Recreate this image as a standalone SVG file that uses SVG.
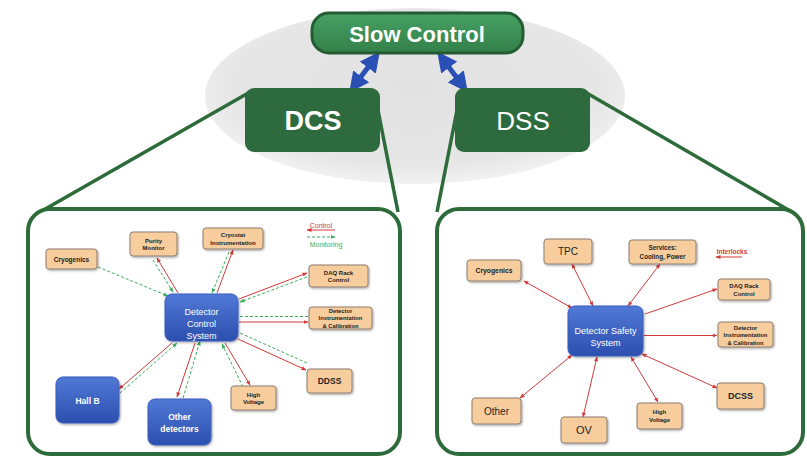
<svg xmlns="http://www.w3.org/2000/svg" width="807" height="462" viewBox="0 0 807 462">
<defs>
<radialGradient id="ell" cx="50%" cy="45%" r="55%">
<stop offset="0" stop-color="#e2e2e2"/>
<stop offset="0.8" stop-color="#e6e6e6"/>
<stop offset="1" stop-color="#f1f1f1"/>
</radialGradient>
<linearGradient id="blue" x1="0" y1="0" x2="0" y2="1">
<stop offset="0" stop-color="#5179d6"/>
<stop offset="1" stop-color="#2b4fae"/>
</linearGradient>
<linearGradient id="green" x1="0" y1="0" x2="0" y2="1">
<stop offset="0" stop-color="#46a064"/>
<stop offset="1" stop-color="#338049"/>
</linearGradient>
<filter id="sh" x="-20%" y="-20%" width="150%" height="150%">
<feDropShadow dx="1" dy="1.2" stdDeviation="0.8" flood-color="#000" flood-opacity="0.35"/>
</filter>
<marker id="ar" viewBox="0 0 10 10" refX="9" refY="5" markerWidth="5" markerHeight="5" markerUnits="userSpaceOnUse" orient="auto-start-reverse">
<path d="M0,1 L10,5 L0,9 z" fill="#d23a3a"/>
</marker>
<marker id="ag" viewBox="0 0 10 10" refX="9" refY="5" markerWidth="5" markerHeight="5" markerUnits="userSpaceOnUse" orient="auto-start-reverse">
<path d="M0,1 L10,5 L0,9 z" fill="#3cad5c"/>
</marker>
<marker id="ab" viewBox="0 0 10 10" refX="6" refY="5" markerWidth="4" markerHeight="4" orient="auto-start-reverse">
<path d="M0,0 L10,5 L0,10 z" fill="#2a4fb5"/>
</marker>
</defs>
<style>
.tan{fill:#f8cd9e;stroke:#8c7e70;stroke-width:1;filter:url(#sh)}
.bl{fill:url(#blue);stroke:#3a5fc0;stroke-width:1;filter:url(#sh)}
.t{font-family:"Liberation Sans",Arial,sans-serif;text-anchor:middle;dominant-baseline:central;fill:#222}
.b{font-weight:bold}
.w{fill:#fff}
.rd{stroke:#d23a3a;stroke-width:1;fill:none}
.gd{stroke:#3cad5c;stroke-width:1;fill:none;stroke-dasharray:3,2}
.call{stroke:#2e6b3a;stroke-width:3.5;fill:none}
.panel{fill:#fff;stroke:#2e6b3a;stroke-width:4}
</style>
<rect width="807" height="462" fill="#fff"/>
<ellipse cx="415" cy="96" rx="210" ry="88" fill="url(#ell)"/>

<g id="callouts">
<line class="call" x1="250" y1="92" x2="40" y2="212"/>
<line class="call" x1="376" y1="100" x2="398" y2="212"/>
<line class="call" x1="459" y1="100" x2="437" y2="212"/>
<line class="call" x1="585" y1="92" x2="792" y2="212"/>
</g>

<g id="panel-left"><rect class="panel" x="28" y="209" width="372" height="245" rx="22"/></g>
<g id="panel-right"><rect class="panel" x="437" y="209" width="366" height="245" rx="22"/></g>

<g id="top-connectors">
<line x1="354" y1="86" x2="375" y2="58" stroke="#2a4fb5" stroke-width="5" marker-start="url(#ab)" marker-end="url(#ab)"/>
<line x1="463" y1="86" x2="442" y2="58" stroke="#2a4fb5" stroke-width="5" marker-start="url(#ab)" marker-end="url(#ab)"/>
</g>

<g id="slow-control">
<rect x="312" y="13" width="211" height="40" rx="17" fill="url(#green)" stroke="#245c33" stroke-width="3"/>
<text class="t b w" x="417" y="34" font-size="22">Slow Control</text>
</g>
<g id="dcs">
<rect x="245" y="88" width="135" height="64" rx="9" fill="#2d6a3e"/>
<text class="t b w" x="313" y="121" font-size="27">DCS</text>
</g>
<g id="dss">
<rect x="455" y="88" width="135" height="64" rx="9" fill="#2d6a3e"/>
<text class="t w" x="523" y="121" font-size="26">DSS</text>
</g>

<g id="connectors-left">
<line class="gd" x1="98" y1="267" x2="168" y2="296" marker-end="url(#ag)"/>
<line class="rd" x1="178" y1="293" x2="157" y2="258" marker-end="url(#ar)"/>
<line class="gd" x1="153" y1="260" x2="173" y2="292" marker-end="url(#ag)"/>
<line class="rd" x1="217" y1="293" x2="233" y2="250" marker-end="url(#ar)"/>
<line class="gd" x1="229" y1="252" x2="212" y2="293" marker-end="url(#ag)"/>
<line class="rd" x1="239" y1="299" x2="307" y2="273" marker-end="url(#ar)"/>
<line class="gd" x1="307" y1="277" x2="240" y2="302" marker-end="url(#ag)"/>
<line class="gd" x1="308" y1="316.5" x2="240" y2="316.5"/>
<line class="rd" x1="239" y1="322" x2="308" y2="322" marker-end="url(#ar)"/>
<line class="rd" x1="238" y1="339" x2="306" y2="370" marker-end="url(#ar)"/>
<line class="gd" x1="307" y1="363" x2="240" y2="333"/>
<line class="rd" x1="225" y1="343" x2="250" y2="385" marker-end="url(#ar)"/>
<line class="gd" x1="243" y1="387" x2="222" y2="344" marker-end="url(#ag)"/>
<line class="rd" x1="195" y1="343" x2="177" y2="397" marker-end="url(#ar)"/>
<line class="gd" x1="183" y1="398" x2="200" y2="341" marker-end="url(#ag)"/>
<line class="rd" x1="172" y1="343" x2="119" y2="389" marker-end="url(#ar)"/>
<line class="gd" x1="120" y1="393" x2="177" y2="343" marker-end="url(#ag)"/>
<line class="rd" x1="335" y1="230" x2="307" y2="230" marker-end="url(#ar)"/>
<line class="gd" x1="307" y1="237" x2="335" y2="237" marker-end="url(#ag)"/>
</g>

<g id="legend-left">
<text class="t" x="321" y="225" font-size="7" fill="#d23a3a" style="fill:#d23a3a">Control</text>
<text class="t" x="326" y="244" font-size="7" style="fill:#3cad5c">Monitoring</text>
</g>

<g id="l-cryogenics"><rect class="tan" x="46" y="249" width="51" height="20" rx="3"/><text class="t b" x="71.5" y="259" font-size="6.5">Cryogenics</text></g>
<g id="l-purity"><rect class="tan" x="130" y="232" width="47" height="24" rx="3"/><text class="t b" x="153.5" y="240.5" font-size="6">Purity</text><text class="t b" x="153.5" y="248" font-size="6">Monitor</text></g>
<g id="l-cryostat"><rect class="tan" x="203" y="228" width="60" height="21" rx="3"/><text class="t b" x="233" y="235" font-size="6">Cryostat</text><text class="t b" x="233" y="242.5" font-size="6">Instrumentation</text></g>
<g id="l-daq"><rect class="tan" x="309" y="265" width="59" height="22" rx="3"/><text class="t b" x="338.5" y="272.5" font-size="6">DAQ Rack</text><text class="t b" x="338.5" y="280" font-size="6">Control</text></g>
<g id="l-detinst"><rect class="tan" x="309" y="307" width="63" height="22" rx="3"/><text class="t b" x="340.5" y="310.5" font-size="5.8">Detector</text><text class="t b" x="340.5" y="318" font-size="5.8">Instrumentation</text><text class="t b" x="340.5" y="325.5" font-size="5.8">&amp; Calibration</text></g>
<g id="l-ddss"><rect class="tan" x="307" y="369" width="45" height="24" rx="3"/><text class="t b" x="329.5" y="381" font-size="8.5">DDSS</text></g>
<g id="l-hv"><rect class="tan" x="231" y="386" width="45" height="24" rx="3"/><text class="t b" x="253.5" y="394.5" font-size="6">High</text><text class="t b" x="253.5" y="402" font-size="6">Voltage</text></g>
<g id="l-dcs"><rect class="bl" x="165" y="294" width="73" height="47" rx="7"/><text class="t w" x="201.5" y="312" font-size="9">Detector</text><text class="t w" x="201.5" y="324" font-size="9">Control</text><text class="t w" x="201.5" y="336" font-size="9">System</text></g>
<g id="l-hallb"><rect class="bl" x="56" y="377" width="63" height="46" rx="7"/><text class="t b w" x="87.5" y="401" font-size="8.5">Hall B</text></g>
<g id="l-other"><rect class="bl" x="148" y="399" width="63" height="46" rx="7"/><text class="t b w" x="179.5" y="417" font-size="8.5">Other</text><text class="t b w" x="179.5" y="429" font-size="8.5">detectors</text></g>

<g id="connectors-right">
<line class="rd" x1="524" y1="281" x2="572" y2="308" marker-start="url(#ar)" marker-end="url(#ar)"/>
<line class="rd" x1="572" y1="264" x2="593" y2="306" marker-start="url(#ar)" marker-end="url(#ar)"/>
<line class="rd" x1="660" y1="264" x2="628" y2="306" marker-start="url(#ar)" marker-end="url(#ar)"/>
<line class="rd" x1="645" y1="314" x2="717" y2="289" marker-end="url(#ar)"/>
<line class="rd" x1="644" y1="335.5" x2="717" y2="335.5" marker-end="url(#ar)"/>
<line class="rd" x1="642" y1="354" x2="717" y2="388" marker-start="url(#ar)" marker-end="url(#ar)"/>
<line class="rd" x1="631" y1="357" x2="658" y2="402" marker-start="url(#ar)" marker-end="url(#ar)"/>
<line class="rd" x1="597" y1="357" x2="583" y2="417" marker-start="url(#ar)" marker-end="url(#ar)"/>
<line class="rd" x1="572" y1="355" x2="520" y2="398" marker-start="url(#ar)" marker-end="url(#ar)"/>
<line class="rd" x1="742" y1="257" x2="716" y2="257" marker-end="url(#ar)"/>
</g>

<g id="legend-right"><text class="t b" x="732" y="251" font-size="6.5" style="fill:#d23a3a">Interlocks</text></g>

<g id="r-tpc"><rect class="tan" x="544" y="239" width="48" height="25" rx="3"/><text class="t" x="568" y="251.5" font-size="10">TPC</text></g>
<g id="r-services"><rect class="tan" x="629" y="240" width="67" height="24" rx="3"/><text class="t b" x="662.5" y="247" font-size="6.3">Services:</text><text class="t b" x="662.5" y="256" font-size="6.3">Cooling, Power</text></g>
<g id="r-cryogenics"><rect class="tan" x="467" y="260" width="54" height="21" rx="3"/><text class="t b" x="494" y="270.5" font-size="6.8">Cryogenics</text></g>
<g id="r-daq"><rect class="tan" x="718" y="279" width="52" height="21" rx="3"/><text class="t b" x="744" y="285.5" font-size="6">DAQ Rack</text><text class="t b" x="744" y="294" font-size="6">Control</text></g>
<g id="r-detinst"><rect class="tan" x="718" y="322" width="55" height="25" rx="3"/><text class="t b" x="745.5" y="327.5" font-size="5.8">Detector</text><text class="t b" x="745.5" y="335.3" font-size="5.8">Instrumentation</text><text class="t b" x="745.5" y="343" font-size="5.8">&amp; Calibration</text></g>
<g id="r-dcss"><rect class="tan" x="717" y="383" width="47" height="26" rx="3"/><text class="t b" x="740.5" y="396" font-size="9">DCSS</text></g>
<g id="r-hv"><rect class="tan" x="637" y="403" width="45" height="26" rx="3"/><text class="t b" x="659.5" y="412" font-size="6">High</text><text class="t b" x="659.5" y="419.5" font-size="6">Voltage</text></g>
<g id="r-ov"><rect class="tan" x="561" y="417" width="46" height="26" rx="3"/><text class="t" x="584" y="430" font-size="11">OV</text></g>
<g id="r-other"><rect class="tan" x="472" y="398" width="49" height="26" rx="3"/><text class="t" x="496.5" y="411" font-size="10">Other</text></g>
<g id="r-dss"><rect class="bl" x="568" y="306" width="75" height="50" rx="7"/><text class="t w" x="605.5" y="331" font-size="9">Detector Safety</text><text class="t w" x="605.5" y="343" font-size="9">System</text></g>
</svg>
